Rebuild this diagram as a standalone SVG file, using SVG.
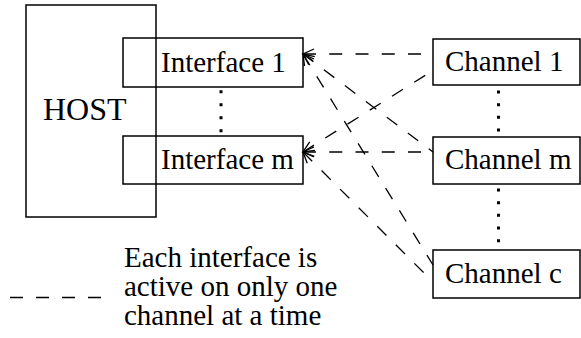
<svg xmlns="http://www.w3.org/2000/svg" width="581" height="338" viewBox="0 0 581 338">
<style>
.box{fill:none;stroke:#000;stroke-width:1.5}
.t{font-family:"Liberation Serif","Times New Roman",serif;font-size:29px;fill:#000}
.dash{fill:none;stroke:#000;stroke-width:1.3;stroke-dasharray:13 13.25;marker-start:url(#arr)}
.dots{stroke:#000;stroke-width:3;fill:none}
</style>
<defs>
<marker id="arr" markerUnits="userSpaceOnUse" markerWidth="20" markerHeight="20" refX="0" refY="0" viewBox="-1 -10 20 20" orient="auto-start-reverse" overflow="visible">
<path d="M-11,-5 L0,0 L-11,5" fill="none" stroke="#000" stroke-width="1.3"/>
</marker>
</defs>
<rect fill="#fff" width="581" height="338"/>
<g id="host">
<rect class="box" x="26" y="5" width="130" height="212"/>
<text class="t" x="43" y="120" style="font-size:32px">HOST</text>
</g>
<g id="interface1">
<rect class="box" x="123" y="38" width="180" height="49"/>
<text class="t" x="161" y="72">Interface 1</text>
</g>
<g id="interfacem">
<rect class="box" x="123" y="136" width="180" height="48"/>
<text class="t" x="161" y="168.5">Interface m</text>
</g>
<g id="channel1">
<rect class="box" x="433" y="39" width="147" height="46"/>
<text class="t" x="445" y="70.5">Channel 1</text>
</g>
<g id="channelm">
<rect class="box" x="433" y="137" width="147" height="47"/>
<text class="t" x="445" y="168.5">Channel m</text>
</g>
<g id="channelc">
<rect class="box" x="433" y="250" width="147" height="48"/>
<text class="t" x="445" y="282.5">Channel c</text>
</g>
<g id="ellipses">
<line class="dots" x1="221" y1="90.2" x2="221" y2="132.2" stroke-dasharray="3 10"/>
<line class="dots" x1="498.5" y1="90.5" x2="498.5" y2="131.5" stroke-dasharray="3 9.67"/>
<line class="dots" x1="498.5" y1="188.5" x2="498.5" y2="242.2" stroke-dasharray="3 9.67"/>
</g>
<g id="connectors">
<path class="dash" d="M303,54 L433,54"/>
<path class="dash" d="M303,152 L433,70.5"/>
<path class="dash" d="M303,152 L433,152"/>
<path class="dash" d="M303,54 L433,152"/>
<path class="dash" d="M303,54 L433,265"/>
<path class="dash" d="M303,152 L433,282"/>
</g>
<g id="legend">
<line x1="10" y1="297.5" x2="101" y2="297.5" stroke="#000" stroke-width="1.3" stroke-dasharray="13 13"/>
<text class="t" x="124" y="267">Each interface is</text>
<text class="t" x="124" y="296">active on only one</text>
<text class="t" x="124" y="325">channel at a time</text>
</g>
</svg>
